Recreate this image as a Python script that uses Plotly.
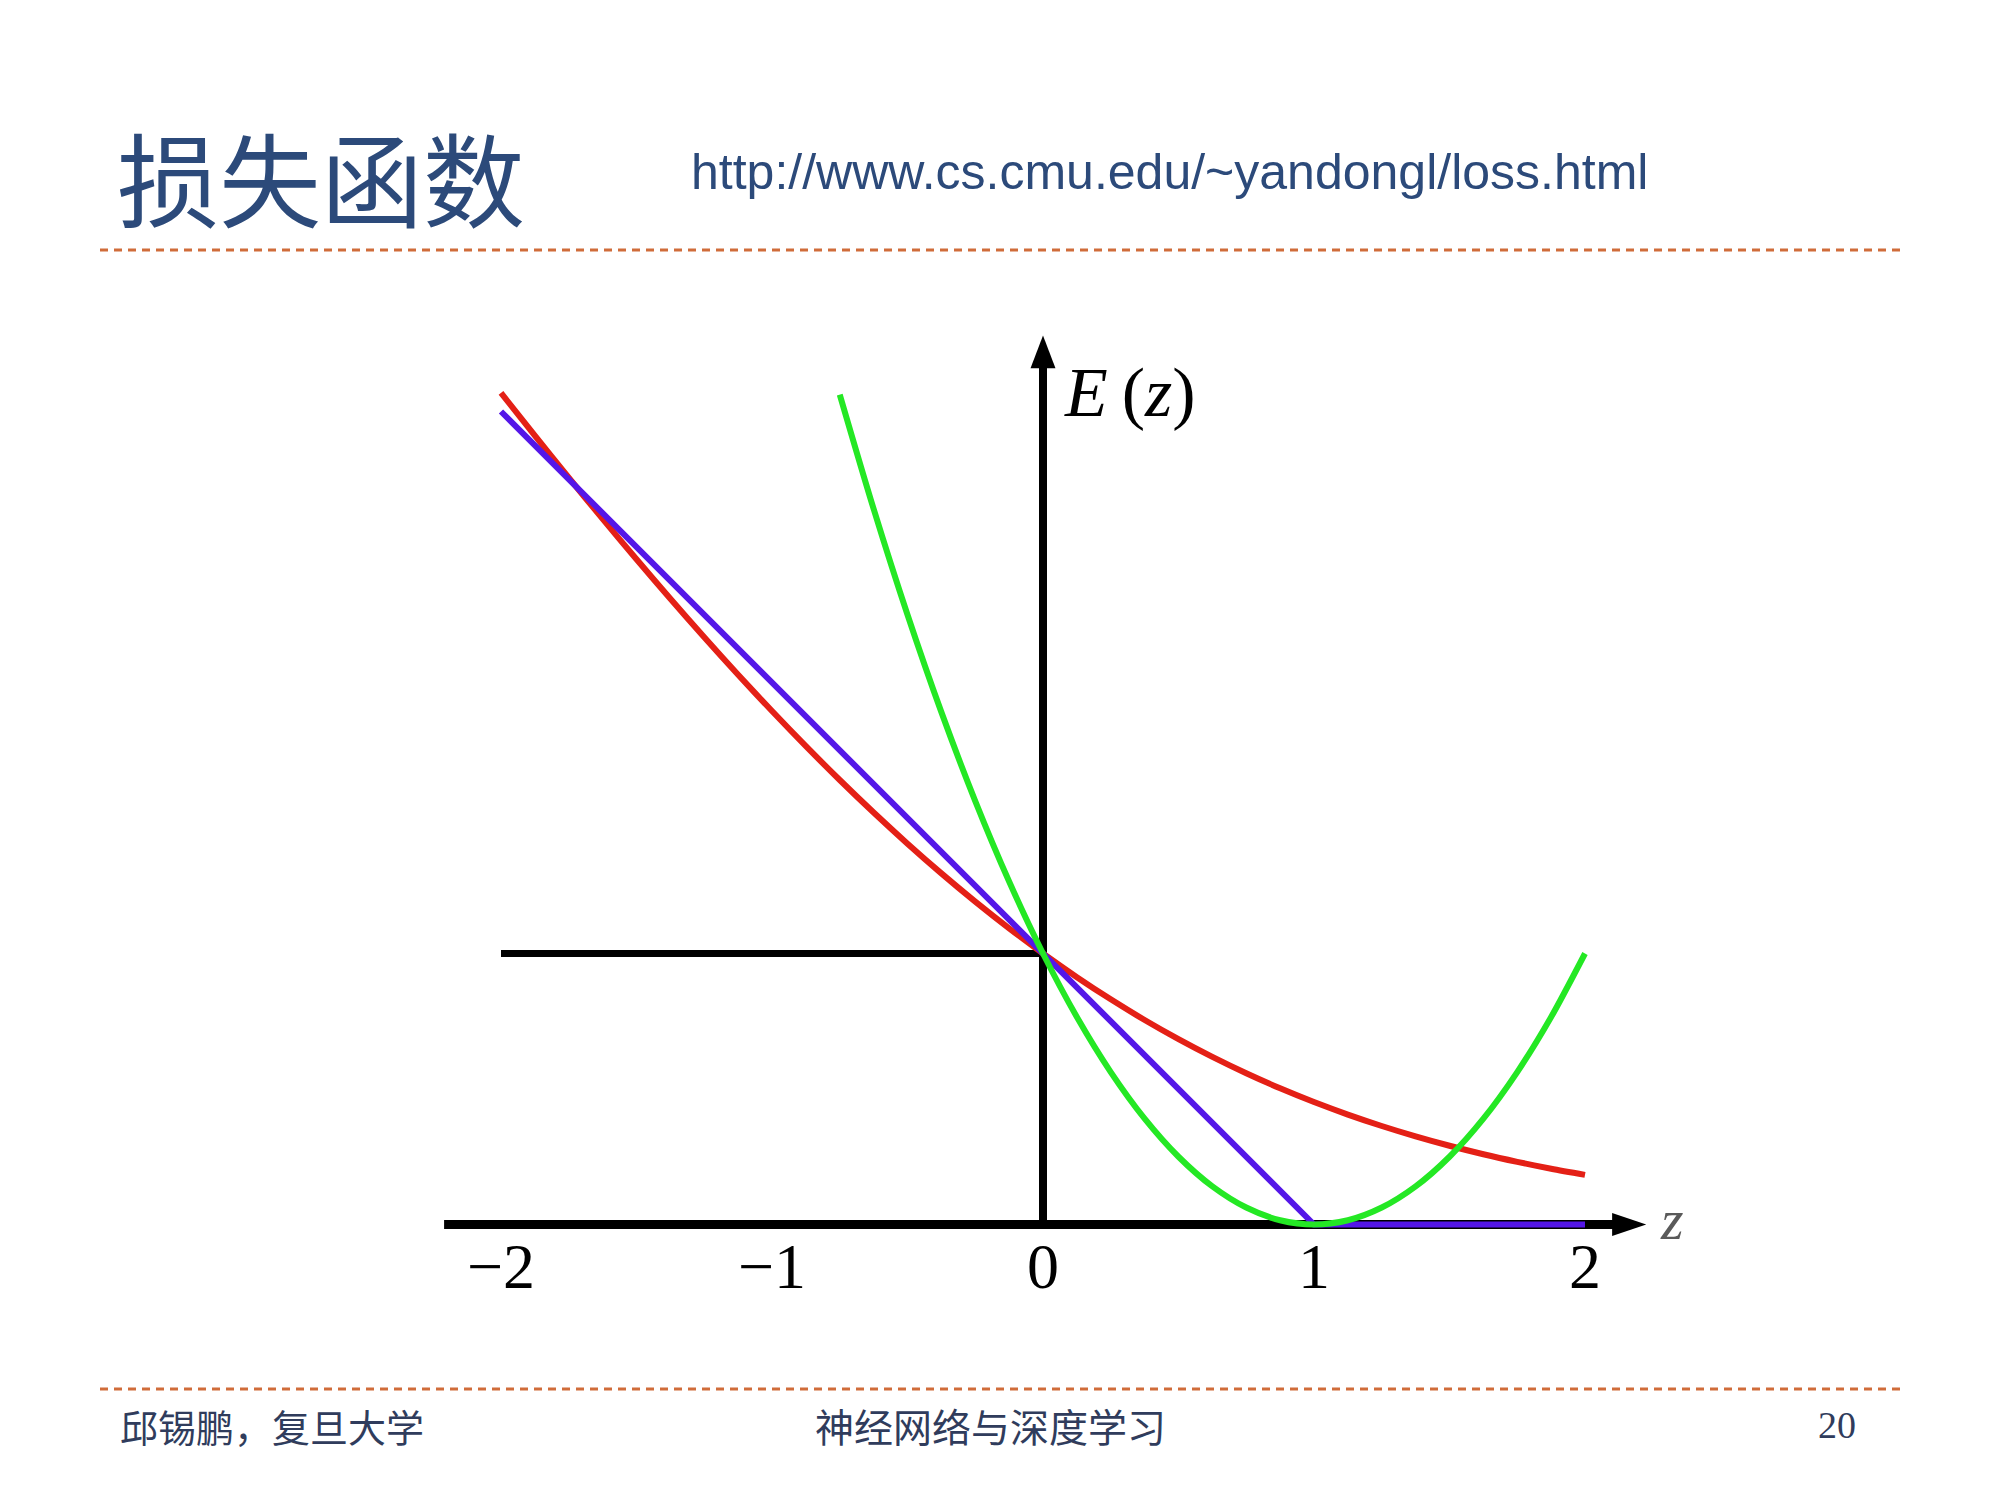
import plotly.graph_objects as go

# values (z on x axis, E(z) on y axis)
z_log = [-2, -1.875, -1.75, -1.625, -1.5, -1.375, -1.25, -1.125, -1, -0.875, -0.75, -0.625, -0.5,
         -0.375, -0.25, -0.125, 0, 0.125, 0.25, 0.375, 0.5, 0.625, 0.75, 0.875, 1, 1.125, 1.25,
         1.375, 1.5, 1.625, 1.75, 1.875, 2]
e_log = [3.0685, 2.9109, 2.7558, 2.6037, 2.4546, 2.3089, 2.1668, 2.0286, 1.8946, 1.7651, 1.6402,
         1.5202, 1.4053, 1.2957, 1.1916, 1.0930, 1.0, 0.9127, 0.8309, 0.7547, 0.6840, 0.6185,
         0.5581, 0.5026, 0.4519, 0.4056, 0.3635, 0.3252, 0.2906, 0.2593, 0.2312, 0.2058, 0.1831]

z_sq = [-0.75, -0.625, -0.5, -0.375, -0.25, -0.125, 0, 0.125, 0.25, 0.375, 0.5, 0.625, 0.75,
        0.875, 1, 1.125, 1.25, 1.375, 1.5, 1.625, 1.75, 1.875, 2]
e_sq = [3.0625, 2.6406, 2.25, 1.8906, 1.5625, 1.2656, 1.0, 0.7656, 0.5625, 0.3906, 0.25, 0.1406,
        0.0625, 0.0156, 0, 0.0156, 0.0625, 0.1406, 0.25, 0.3906, 0.5625, 0.7656, 1.0]

z_hinge = [-2, 1, 2]
e_hinge = [3, 0, 0]

z_01 = [-2, 0]
e_01 = [1, 1]

tick_vals = [-2, -1, 0, 1, 2]
tick_text = ["\u22122", "\u22121", "0", "1", "2"]

W, H = 2000, 1500
OFF = 8  # page body margin
RED = "rgb(228,32,22)"
BLUE = "rgb(84,22,232)"
GREEN = "rgb(36,232,36)"
NAVY = "rgb(44,74,122)"
ORANGE = "rgb(208,108,58)"
FOOT = "rgb(48,60,92)"


def px(x):
    return (x - OFF) / W


def py(y):
    return 1 - (y - OFF) / H


fig = go.Figure()

fig.add_trace(go.Scatter(x=z_01, y=e_01, mode="lines", line=dict(color="black", width=7)))
fig.add_trace(go.Scatter(x=z_log, y=e_log, mode="lines",
                         line=dict(color=RED, width=6, shape="spline", smoothing=0.8)))
fig.add_trace(go.Scatter(x=z_hinge, y=e_hinge, mode="lines", line=dict(color=BLUE, width=6)))
fig.add_trace(go.Scatter(x=z_sq, y=e_sq, mode="lines",
                         line=dict(color=GREEN, width=6, shape="spline", smoothing=0.8)))

# axes with arrow heads
shapes = [
    dict(type="line", xref="x", yref="y", x0=-2.21, x1=2.12, y0=0, y1=0,
         line=dict(color="black", width=9), layer="below"),
    dict(type="line", xref="x", yref="y", x0=0, x1=0, y0=0, y1=3.19,
         line=dict(color="black", width=8), layer="below"),
    dict(type="path", xref="x", yref="y", path="M 2.10 -0.042 L 2.226 0 L 2.10 0.042 Z",
         fillcolor="black", line=dict(width=0), layer="below"),
    dict(type="path", xref="x", yref="y", path="M -0.046 3.16 L 0 3.28 L 0.046 3.16 Z",
         fillcolor="black", line=dict(width=0), layer="below"),
    # slide rules
    dict(type="line", xref="paper", yref="paper", x0=px(100), x1=px(1900), y0=py(250), y1=py(250),
         line=dict(color=ORANGE, width=3, dash="8px,6px")),
    dict(type="line", xref="paper", yref="paper", x0=px(100), x1=px(1900), y0=py(1389), y1=py(1389),
         line=dict(color=ORANGE, width=3, dash="8px,6px")),
]

ann = []
for v, t in zip(tick_vals, tick_text):
    ann.append(dict(x=v, y=-0.155, xref="x", yref="y", text=t, showarrow=False,
                    font=dict(family="Liberation Serif", size=64, color="black")))
ann.append(dict(x=0.07, y=3.07, xref="x", yref="y",
                text="<i>E</i>\u2009(<i>z</i>)", showarrow=False,
                xanchor="left", font=dict(family="Liberation Serif", size=70, color="black")))
ann.append(dict(x=2.32, y=0.02, xref="x", yref="y", text="<i>z</i>", showarrow=False,
                font=dict(family="Liberation Serif", size=58, color="rgb(90,90,90)")))

ann.append(dict(x=px(115), y=py(176), xref="paper", yref="paper", text="损失函数", showarrow=False,
                xanchor="left", yanchor="middle",
                font=dict(family="Noto Sans CJK SC", size=102, color=NAVY)))
ann.append(dict(x=px(689), y=py(172), xref="paper", yref="paper",
                text="http://www.cs.cmu.edu/~yandongl/loss.html", showarrow=False,
                xanchor="left", yanchor="middle",
                font=dict(family="Liberation Sans", size=50, color=NAVY)))
ann.append(dict(x=px(118), y=py(1425), xref="paper", yref="paper", text="邱锡鹏，复旦大学",
                showarrow=False, xanchor="left", yanchor="middle",
                font=dict(family="Noto Sans CJK SC", size=38, color=FOOT)))
ann.append(dict(x=px(990), y=py(1425), xref="paper", yref="paper", text="神经网络与深度学习",
                showarrow=False, xanchor="center", yanchor="middle",
                font=dict(family="Noto Sans CJK SC", size=39, color=FOOT)))
ann.append(dict(x=px(1858), y=py(1425), xref="paper", yref="paper", text="20",
                showarrow=False, xanchor="right", yanchor="middle",
                font=dict(family="Liberation Serif", size=38, color=FOOT)))

# pixel mapping: z=0 at x=1043, E=0 at y=1224.5, ~271 px per unit (page coords)
unit = 271.0
x0_px = 1043 - OFF
y0_px = 1224.5 - OFF
fig.update_layout(
    width=W, height=H,
    margin=dict(l=0, r=0, t=0, b=0),
    paper_bgcolor="white", plot_bgcolor="white",
    showlegend=False,
    xaxis=dict(visible=False, range=[-x0_px / unit, (W - x0_px) / unit], domain=[0, 1]),
    yaxis=dict(visible=False, range=[-(H - y0_px) / unit, y0_px / unit], domain=[0, 1]),
    shapes=shapes,
    annotations=ann,
)

fig.write_html("out.html")
